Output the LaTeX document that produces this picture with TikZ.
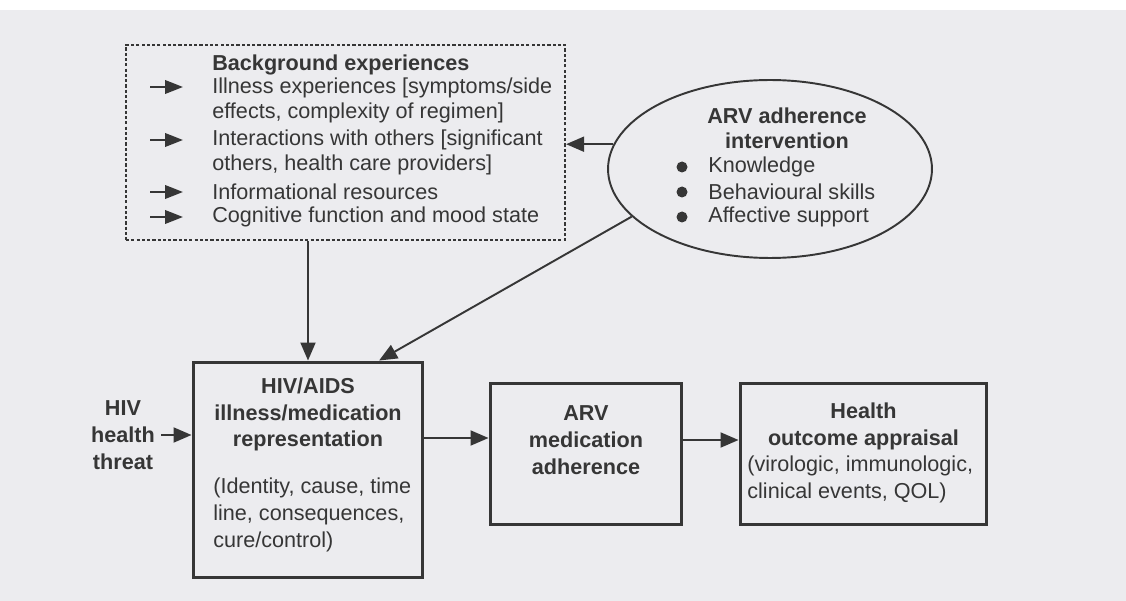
\documentclass[tikz,border=0pt]{standalone}
\usepackage{fontspec}
\setmainfont{Liberation Sans}
\usetikzlibrary{shapes.geometric, arrows.meta, positioning, calc}
\usepackage{xcolor}
\definecolor{PaperGrey}{HTML}{ECECEF}
\definecolor{InkGrey}{HTML}{363636}
\newcommand{\bodyfont}{\fontsize{12.3}{14.2}\selectfont}
\newcommand{\boxfont}{\fontsize{12.3}{15.3}\selectfont}
\tikzset{
    % Boxes
    stagebox/.style={
        rectangle,
        draw=InkGrey,
        line width=1.7pt,
        inner sep=0pt
    },
    dashbox/.style={
        rectangle,
        draw=InkGrey,
        line width=1.3pt,
        dash pattern=on 1.8pt off 1.2pt,
        inner sep=0pt
    },
    intervention/.style={
        ellipse,
        draw=InkGrey,
        line width=1.1pt,
        inner sep=0pt
    },
    % Texts
    titletext/.style={
        align=center,
        inner sep=0pt,
        text=InkGrey,
        font=\boxfont\bfseries
    },
    listtext/.style={
        anchor=west,
        align=left,
        inner sep=0pt,
        text=InkGrey,
        font=\bodyfont
    },
    detailtext/.style={
        anchor=west,
        align=left,
        inner sep=0pt,
        text=InkGrey,
        font=\boxfont
    },
    % Arrows
    arrow/.style={
        -{Triangle[length=0.36cm, width=0.3cm]},
        line width=1.1pt,
        draw=InkGrey
    },
    tickarrow/.style={
        -{Triangle[length=0.36cm, width=0.27cm]},
        line width=1.3pt,
        draw=InkGrey
    }
}

\begin{document}
\begin{tikzpicture}[x=0.02cm, y=-0.02cm]
    % Paper
    \fill[PaperGrey] (0,10) rectangle (1126,601);
    \useasboundingbox (0,0) rectangle (1126,601);

    % Background experiences
    \node[dashbox, minimum width=8.78cm, minimum height=3.9cm] (bg) at (345.5,142.5) {};
    \node[listtext, font=\bodyfont\bfseries] (bgtitle) at (212,65) {Background experiences};
    \node[listtext] (illness) at (212,100) {Illness experiences [symptoms/side\\effects, complexity of regimen]};
    \node[listtext] (others) at (212,152) {Interactions with others [significant\\others, health care providers]};
    \node[listtext] (info) at (212,192) {Informational resources};
    \node[listtext] (mood) at (212,217) {Cognitive function and mood state};
    \foreach \y in {87,140,192,217}
        \draw[tickarrow] (150,\y) -- (183,\y);

    % Intervention
    \node[intervention, minimum width=6.48cm, minimum height=3.56cm] (intv) at (770,169) {};
    \node[titletext, font=\bodyfont\bfseries] (intvtitle) at (787,128.5) {ARV adherence\\intervention};
    \foreach \y/\t in {167/Knowledge, 192/Behavioural skills, 217/Affective support} {
        \fill[InkGrey] (682,\y) circle (5.5);
        \node[listtext] (aim\y) at (708,\y) {\t};
    }

    % Main chain
    \node[titletext] (threat) at (123,435) {HIV\\health\\threat};
    \node[stagebox, minimum width=4.6cm, minimum height=4.32cm] (hiv) at (308,470) {};
    \node[titletext] (hivtitle) at (308,414.5) {HIV/AIDS\\illness/medication\\representation};
    \node[detailtext] (hivdetail) at (213,515) {(Identity, cause, time\\line, consequences,\\cure/control)};

    \node[stagebox, minimum width=3.84cm, minimum height=2.84cm] (arv) at (586,454) {};
    \node[titletext] (arvtitle) at (586,440) {ARV\\medication\\adherence};

    \node[stagebox, minimum width=4.94cm, minimum height=2.84cm] (health) at (863.5,454) {};
    \node[titletext] (healthtitle) at (863.5,426.5) {Health\\outcome appraisal};
    \node[detailtext] (healthdetail) at (747,479.5) {(virologic, immunologic,\\clinical events, QOL)};

    % Connectors
    \coordinate (arvin) at ([yshift=0.32cm]arv.west);
    \coordinate (healthin) at ([yshift=0.28cm]health.west);
    \draw[arrow] (intv.171) -- (intv.171 -| bg.east);
    \draw[arrow] (intv.199) -- (hiv.57);
    \draw[arrow] (bg.south -| hiv.north) -- (hiv.north);
    \draw[arrow] ([xshift=0.12cm]threat.east) -- (threat.east -| hiv.west);
    \draw[arrow] (hiv.east |- arvin) -- (arvin);
    \draw[arrow] (arv.east |- healthin) -- (healthin);
\end{tikzpicture}
\end{document}
